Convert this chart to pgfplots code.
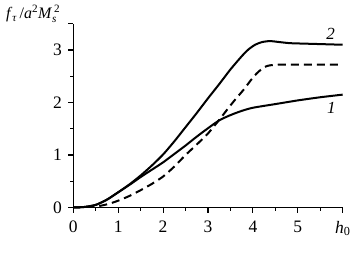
\documentclass[border=0pt]{standalone}
\usepackage{fontspec}
\usepackage{amsmath}
\setmainfont{Liberation Serif}
\usepackage{pgfplots}
\pgfplotsset{compat=1.18}
\begin{document}
\begin{tikzpicture}
\useasboundingbox (-73.3pt,-46.5pt) rectangle (281.7pt,207.5pt);
\begin{axis}[
  scale only axis, width=269.4pt, height=183.75pt,
  xmin=0, xmax=6, ymin=0, ymax=3.5,
  axis lines=left,
  axis line style={-, line width=1.3pt},
  xtick={0,1,2,3,4,5,6},
  xticklabels={0,1,2,3,4,5,\textit{h}$_{\text{0}}$},
  ytick={0,1,2,3},
  extra y ticks={3.5}, extra y tick labels={},
  minor xtick={0.5,1.5,2.5,3.5,4.5,5.5},
  minor ytick={0.5,1.5,2.5},
  tick align=outside,
  major tick length=5pt, minor tick length=3pt,
  tick style={line width=1.1pt, black},
  ticklabel style={font=\fontsize{17.5}{19}\selectfont},
  /pgf/number format/assume math mode=true,
  xticklabel style={yshift=-5pt},
  yticklabel style={xshift=-3pt},
  clip=false,
]
\addplot[black, line width=2pt, smooth, tension=0.4] coordinates {
(0,0) (0.25,0.01) (0.5,0.05) (0.75,0.15) (1.0,0.29) (1.25,0.44) (1.5,0.61)
(1.75,0.80) (2.0,1.01) (2.25,1.26) (2.5,1.53) (2.75,1.80) (3.0,2.08)
(3.25,2.35) (3.5,2.63) (3.75,2.88) (3.9,3.01) (4.05,3.10) (4.2,3.15)
(4.38,3.17) (4.6,3.15) (4.83,3.13) (5.2,3.12) (5.6,3.11) (6.0,3.10)};
\addplot[black, line width=2pt, smooth, tension=0.4] coordinates {
(0,0) (0.25,0.01) (0.5,0.05) (0.75,0.15) (1.0,0.29) (1.25,0.43) (1.5,0.58)
(1.75,0.72) (2.0,0.86) (2.25,1.02) (2.5,1.18) (2.75,1.35) (3.0,1.51)
(3.25,1.66) (3.5,1.76) (3.75,1.84) (4.0,1.90) (4.5,1.97) (5.0,2.04)
(5.5,2.10) (6.0,2.15)};
\addplot[black, line width=2pt, dash pattern=on 8pt off 5pt, smooth, tension=0.4] coordinates {
(0,0) (0.5,0.02) (0.75,0.06) (1.0,0.13) (1.25,0.22) (1.5,0.33) (1.75,0.45)
(2.0,0.59) (2.25,0.78) (2.5,1.0) (2.75,1.2) (3.0,1.41) (3.25,1.67)
(3.45,1.89) (3.6,2.05) (3.79,2.24) (3.95,2.42) (4.08,2.55) (4.2,2.64)
(4.3,2.69) (4.4,2.71) (4.6,2.72) (5.3,2.72) (6.0,2.72)};
\node[font=\fontsize{17}{19}\selectfont\itshape] at (axis cs:5.73,3.30) {2};
\node[font=\fontsize{17}{19}\selectfont\itshape] at (axis cs:5.75,1.89) {1};
\node[anchor=base west, font=\fontsize{16}{18}\selectfont, inner sep=0pt] at (axis cs:-1.50,3.6)
  {\textit{f}$_{\textit{τ}}$\,/\textit{a}$^{\text{2}}$\textit{M}$_{\textit{s}}^{\,\text{2}}$};
\end{axis}
\end{tikzpicture}
\end{document}
